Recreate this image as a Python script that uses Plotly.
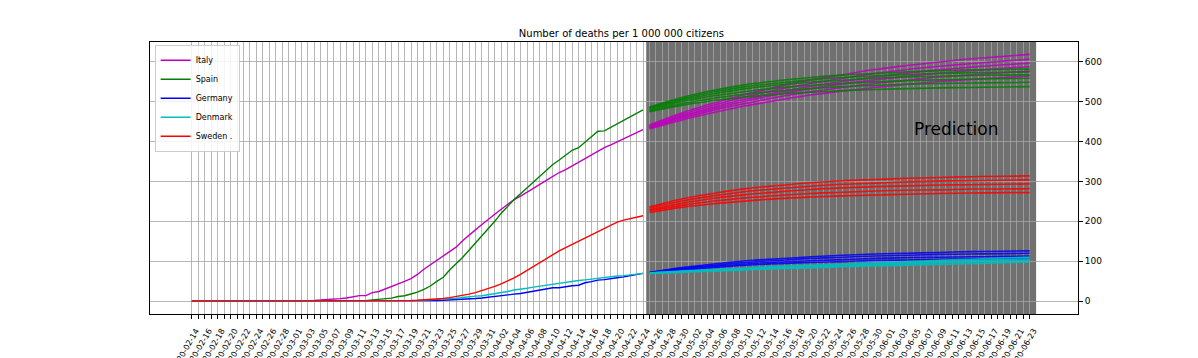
import pandas as pd
import plotly.graph_objects as go

# ---------------- data ----------------
obs_start = "2020-02-14"
obs_end = "2020-04-24"
axis_end = "2020-06-23"

countries = ["Italy", "Spain", "Germany", "Denmark", "Sweden ."]
colors = ["#bf00bf", "#008000", "#0000ff", "#00bfbf", "#ff0000"]

italy = [0, 0, 0, 0, 0, 0, 0, 0.02, 0.03, 0.05, 0.12, 0.17, 0.20, 0.28, 0.35, 0.48,
         0.56, 0.86, 1.31, 1.77, 2.45, 3.26, 3.86, 6.06, 7.67, 10.5, 13.7, 13.7, 21.0,
         23.9, 30.0, 35.8, 41.5, 49.3, 56.4, 66.8, 79.9, 90.7, 100.7, 113.0, 124.3,
         135.3, 151.3, 166.1, 178.6, 192.0, 205.9, 217.9, 230.5, 243.2, 254.5, 263.2,
         273.7, 283.7, 292.7, 302.8, 312.3, 322.5, 329.7, 339.0, 349.0, 358.6, 367.3,
         376.8, 384.8, 392.0, 399.5, 408.4, 415.6, 423.3, 430.2]
spain = [0] * 18 + [0.02, 0.04, 0.06, 0.11, 0.21, 0.36, 0.60, 0.75, 1.15, 1.17, 2.83,
         4.15, 6.16, 7.29, 11.4, 13.3, 17.7, 22.2, 29.3, 37.7, 49.2, 59.8, 77.7, 93.0,
         109.5, 127.4, 144.9, 164.4, 180.3, 200.0, 220.5, 238.6, 254.5, 269.3, 284.2,
         299.2, 315.1, 329.1, 342.6, 353.8, 366.6, 378.3, 384.7, 398.6, 411.5, 426.1,
         427.0, 435.7, 444.2, 453.4, 462.7, 472.0, 479.8]
germany = [0] * 24 + [0.02, 0.02, 0.04, 0.04, 0.08, 0.11, 0.13, 0.20, 0.29, 0.34, 0.53,
           0.81, 1.01, 1.13, 1.48, 1.89, 2.48, 3.22, 4.12, 5.22, 6.42, 7.77, 9.33, 11.08,
           13.33, 15.36, 17.39, 19.08, 21.80, 24.28, 28.29, 31.40, 33.33, 33.5, 36.40,
           38.47, 39.68, 45.82, 48.81, 52.42, 53.71, 55.24, 58.56, 60.62, 63.59, 67.15,
           69.38]
denmark = [0] * 29 + [0.17, 0.34, 0.52, 0.69, 0.69, 1.03, 1.55, 2.24, 2.24, 4.13, 5.51,
           5.86, 7.06, 8.96, 11.2, 12.4, 13.3, 15.5, 17.9, 21.2, 23.9, 27.7, 30.8, 32.2,
           35.0, 37.5, 40.8, 42.5, 44.8, 47.0, 49.1, 51.5, 53.2, 55.3, 57.9, 59.6, 61.1,
           62.7, 63.7, 66.1, 67.9, 69.4]
sweden = [0] * 26 + [0.1, 0.1, 0.1, 0.2, 0.3, 0.6, 0.7, 1.0, 1.3, 2, 2.8, 3.8, 5, 6.5,
          8.5, 11, 14, 17.5, 21, 26, 31.5, 37, 43, 50, 58, 67, 77, 87, 97, 108, 117, 126,
          134, 142, 150, 158, 167, 176, 184, 192, 198, 203, 207, 211, 214]

pred_dates = ["2020-04-25", "2020-04-30", "2020-05-05", "2020-05-10", "2020-05-15",
              "2020-05-20", "2020-05-25", "2020-05-30", "2020-06-04", "2020-06-09",
              "2020-06-14", "2020-06-19", "2020-06-23"]

italy_pred = [
    [442, 472, 497, 519, 538, 555, 568, 581, 591, 600, 608, 614, 619],
    [440, 468, 492, 513, 531, 546, 559, 571, 581, 589, 596, 602, 607],
    [437, 464, 487, 507, 524, 539, 551, 562, 572, 580, 587, 593, 597],
    [436, 462, 483, 502, 519, 533, 545, 555, 564, 572, 578, 584, 588],
    [434, 458, 479, 496, 512, 525, 536, 546, 554, 562, 568, 573, 577],
    [432, 454, 473, 490, 504, 517, 527, 536, 544, 551, 556, 561, 565],
]
spain_pred = [
    [487, 511, 529, 543, 553, 561, 567, 571, 575, 578, 580, 581, 582],
    [485, 507, 525, 538, 547, 555, 561, 565, 568, 571, 573, 574, 575],
    [483, 504, 520, 533, 542, 549, 554, 559, 562, 564, 566, 567, 568],
    [480, 500, 515, 526, 535, 541, 546, 550, 553, 555, 557, 558, 559],
    [477, 495, 509, 519, 527, 533, 538, 541, 544, 546, 547, 548, 549],
    [475, 491, 503, 512, 519, 524, 528, 531, 533, 535, 536, 537, 538],
]
germany_pred = [
    [72, 84, 93, 101, 106, 111, 115, 118, 120, 122, 124, 125, 126],
    [71, 82, 90, 97, 102, 107, 110, 113, 115, 117, 118, 119, 120],
    [71, 80, 87, 93, 98, 101, 104, 107, 109, 110, 111, 112, 113],
    [70, 78, 84, 90, 94, 97, 99, 102, 103, 105, 106, 106, 107],
]
denmark_pred = [
    [71, 75, 79, 83, 87, 90, 93, 96, 99, 102, 105, 108, 110],
    [70, 74, 78, 81, 84, 88, 91, 93, 96, 99, 101, 104, 106],
    [70, 74, 77, 80, 83, 86, 88, 91, 93, 96, 98, 100, 102],
    [69, 72, 75, 78, 81, 83, 86, 88, 90, 92, 94, 96, 98],
]
sweden_pred = [
    [236, 256, 270, 282, 290, 297, 302, 305, 308, 310, 312, 313, 314],
    [233, 251, 264, 275, 282, 288, 293, 296, 299, 301, 302, 303, 304],
    [229, 245, 258, 267, 274, 280, 284, 287, 289, 291, 292, 293, 294],
    [226, 240, 251, 259, 265, 270, 273, 276, 278, 279, 281, 281, 282],
    [222, 235, 244, 251, 257, 261, 264, 266, 268, 270, 271, 272, 272],
]

y_ticks = [0, 100, 200, 300, 400, 500, 600]

# ---------------- figure ----------------
obs_dates = pd.date_range(obs_start, obs_end, freq="D")
tick_dates = pd.date_range(obs_start, axis_end, freq="D")
tick_text = [d.strftime("%Y-%m-%d") if i % 2 == 0 else "" for i, d in enumerate(tick_dates)]

fig = go.Figure()

observed = [italy, spain, germany, denmark, sweden]
preds = [italy_pred, spain_pred, germany_pred, denmark_pred, sweden_pred]

for name, col, vals in zip(countries, colors, observed):
    fig.add_trace(go.Scatter(x=obs_dates, y=vals, mode="lines", name=name,
                             line=dict(color=col, width=1.4)))

for col, plist in zip(colors, preds):
    for p in plist:
        fig.add_trace(go.Scatter(x=pd.to_datetime(pred_dates), y=p, mode="lines",
                                 line=dict(color=col, width=1.6, shape="spline"),
                                 opacity=0.85, showlegend=False, hoverinfo="skip"))

fig.add_shape(type="rect", xref="x", yref="paper",
              x0="2020-04-24 12:00", x1="2020-06-24 00:00", y0=0, y1=1,
              fillcolor="#707070", line=dict(width=0), layer="below")

fig.add_annotation(x="2020-06-11 12:00", y=432, xref="x", yref="y", text="Prediction",
                   showarrow=False, font=dict(size=17, color="black",
                                              family="DejaVu Sans"))

# the page body has an 8px margin, so the figure is offset by 8px
fig.update_layout(
    width=1190, height=350,
    margin=dict(l=142, r=120, t=34, b=44),
    paper_bgcolor="white", plot_bgcolor="white",
    font=dict(family="DejaVu Sans", color="black", size=9),
    title=dict(text="Number of deaths per 1 000 000 citizens", x=0.5155, xanchor="center",
               y=0.926, yanchor="middle", font=dict(size=10, color="black")),
    legend=dict(x=0.005, y=0.99, xanchor="left", yanchor="top",
                bgcolor="rgba(255,255,255,0.85)", bordercolor="#cccccc", borderwidth=1,
                font=dict(size=8), tracegroupgap=0, itemwidth=30),
    showlegend=True,
)

fig.update_xaxes(
    type="date", range=["2020-02-07 12:00", "2020-06-30 12:00"],
    tickmode="array", tickvals=tick_dates, ticktext=tick_text, tickangle=-60,
    ticks="outside", ticklen=4, tickcolor="black", tickfont=dict(size=8),
    ticklabelstandoff=4, ticklabelshift=4,
    showgrid=True, gridcolor="rgba(165,165,165,0.8)", gridwidth=0.8,
    showline=True, linecolor="black", linewidth=1, mirror=True,
    zeroline=False, automargin=False,
)
fig.update_yaxes(
    range=[-32.5, 650], side="right", tickmode="array", tickvals=y_ticks,
    ticks="outside", ticklen=4, tickcolor="black", tickfont=dict(size=9),
    showgrid=True, gridcolor="rgba(165,165,165,0.8)", gridwidth=0.8,
    showline=True, linecolor="black", linewidth=1, mirror=True,
    zeroline=False, automargin=False,
)

fig.write_html("out.html")
